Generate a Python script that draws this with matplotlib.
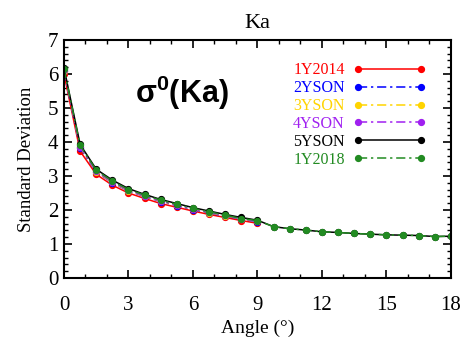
import matplotlib
matplotlib.use('Agg')
import matplotlib.pyplot as plt
from matplotlib.ticker import MultipleLocator

plt.rcParams['font.family'] = 'Liberation Serif'
plt.rcParams['mathtext.fontset'] = 'custom'
plt.rcParams['mathtext.rm'] = 'Liberation Sans:bold'
plt.rcParams['mathtext.bf'] = 'Liberation Sans:bold'

# viewing angle (deg)
angle = [0, 0.75, 1.5, 2.25, 3, 3.75, 4.5, 5.25, 6, 6.75, 7.5, 8.25, 9,
         9.75, 10.5, 11.25, 12, 12.75, 13.5, 14.25, 15, 15.75, 16.5, 17.25, 18]

tail = [1.51, 1.45, 1.41, 1.36, 1.34, 1.31, 1.29, 1.27, 1.26, 1.25, 1.22, 1.23]

sd_1y2014 = [6.00, 3.73, 3.05, 2.73, 2.50, 2.34, 2.19, 2.08, 1.97, 1.87, 1.78, 1.69, 1.61]
sd_2yson = [6.08, 3.82, 3.12, 2.80, 2.56, 2.40, 2.25, 2.13, 2.01, 1.91, 1.82, 1.73, 1.66]
sd_3yson = [6.10, 3.84, 3.13, 2.81, 2.57, 2.41, 2.26, 2.14, 2.02, 1.92, 1.83, 1.74, 1.67]
sd_4yson = [6.12, 3.86, 3.14, 2.83, 2.58, 2.42, 2.27, 2.15, 2.03, 1.93, 1.84, 1.75, 1.67]
sd_5yson = [6.18, 3.93, 3.20, 2.88, 2.63, 2.46, 2.31, 2.19, 2.07, 1.97, 1.87, 1.78, 1.70] + tail
sd_1y2018 = [6.15, 3.90, 3.17, 2.85, 2.60, 2.44, 2.29, 2.17, 2.05, 1.95, 1.85, 1.75, 1.69] + tail

dashdot = (0, (6, 2.5, 1.5, 2.5))
series = [
    ('1Y2014', sd_1y2014, '#ff0000', '-'),
    ('2YSON', sd_2yson, '#0000ff', dashdot),
    ('3YSON', sd_3yson, '#ffd400', dashdot),
    ('4YSON', sd_4yson, '#a020f0', dashdot),
    ('5YSON', sd_5yson, '#000000', '-'),
    ('1Y2018', sd_1y2018, '#228b22', dashdot),
]

fig = plt.figure(figsize=(4.62, 3.38), dpi=100)
ax = fig.add_axes([0.1385, 0.1775, 0.8375, 0.704])

for name, vals, col, ls in series:
    ax.plot(angle[:len(vals)], vals, color=col, linestyle=ls, lw=1.1,
            marker='o', ms=4.2, label=name)

ax.set_xlim(0, 18)
ax.set_ylim(0, 7)
ax.xaxis.set_major_locator(MultipleLocator(3))
ax.xaxis.set_minor_locator(MultipleLocator(1))
ax.yaxis.set_major_locator(MultipleLocator(1))
ax.yaxis.set_minor_locator(MultipleLocator(0.2))
ax.tick_params(which='both', direction='in', top=True, right=True, labelsize=15)
ax.tick_params(axis='x', which='major', pad=13)
ax.tick_params(axis='y', which='major', pad=4)
ax.tick_params(which='major', length=6, width=1.2)
ax.tick_params(which='minor', length=3, width=1.0)
for s in ax.spines.values():
    s.set_linewidth(1.5)

ax.set_title('Ka', fontsize=16, pad=9)
ax.set_xlabel('Angle (°)', fontsize=14, labelpad=3)
ax.set_ylabel('Standard Deviation', fontsize=13.5, labelpad=9)

ax.text(0.305, 0.78, r'$\mathbf{\sigma^0(Ka)}$', transform=ax.transAxes,
        fontsize=22, ha='center', va='center')

ax.legend(loc='upper right', bbox_to_anchor=(0.957, 0.94), frameon=False,
          markerfirst=False, labelcolor='linecolor', numpoints=2,
          handlelength=4.6, handletextpad=0.5, labelspacing=0.12,
          fontsize=11.5, borderpad=0)

fig.savefig('out.png', dpi=100)
